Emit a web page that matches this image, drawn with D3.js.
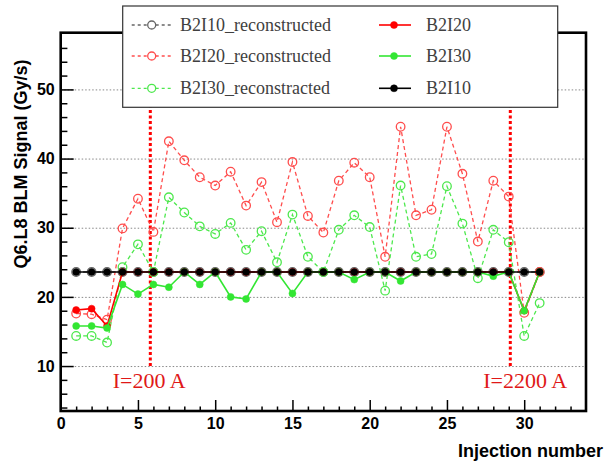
<!DOCTYPE html>
<html>
<head>
<meta charset="utf-8">
<script src="https://cdn.jsdelivr.net/npm/d3@7"></script>
<style>
body { margin: 0; background: #fff; }
svg { display: block; }
.tick text { font-family: Arial, "Liberation Sans", sans-serif; font-weight: bold; font-size: 16px; fill: #000; }
</style>
</head>
<body>
<div class="chart"></div>
<script>
var width = 609,
    height = 462;

// injection numbers
var injections = [1, 2, 3, 4, 5, 6, 7, 8, 9, 10, 11, 12, 13, 14, 15, 16, 17, 18, 19, 20,
                  21, 22, 23, 24, 25, 26, 27, 28, 29, 30, 31];

// measured signals (Gy/s)
var b2i10 = [23.6, 23.6, 23.6, 23.6, 23.6, 23.6, 23.6, 23.6, 23.6, 23.6, 23.6, 23.6, 23.6, 23.6, 23.6, 23.6,
             23.6, 23.6, 23.6, 23.6, 23.6, 23.6, 23.6, 23.6, 23.6, 23.6, 23.6, 23.6, 23.6, 23.6, 23.6];
var b2i20 = [18.1, 18.3, 15.8, 23.6, 23.6, 23.6, 23.6, 23.6, 23.6, 23.6, 23.6, 23.6, 23.6, 23.6, 23.6, 23.6,
             23.6, 23.6, 23.6, 23.6, 23.6, 23.6, 23.6, 23.6, 23.6, 23.6, 23.6, 23.6, 23.6, 18.0, 23.6];
var b2i30 = [15.8, 15.8, 15.5, 21.8, 20.4, 21.8, 21.4, 23.6, 21.8, 23.6, 20.0, 19.7, 23.6, 23.6, 20.5, 23.6,
             23.6, 23.6, 22.5, 23.6, 23.6, 22.3, 23.6, 23.6, 23.6, 23.6, 23.6, 23.0, 23.6, 18.0, 23.6];

// reconstructed signals (Gy/s)
var b2i10Rec = [23.6, 23.6, 23.6, 23.6, 23.6, 23.6, 23.6, 23.6, 23.6, 23.6, 23.6, 23.6, 23.6, 23.6, 23.6, 23.6,
                23.6, 23.6, 23.6, 23.6, 23.6, 23.6, 23.6, 23.6, 23.6, 23.6, 23.6, 23.6, 23.6, 23.6, 23.6];
var b2i20Rec = [17.6, 17.5, 16.7, 29.9, 34.2, 29.4, 42.5, 39.75, 37.3, 36.1, 38.1, 33.2, 36.6, 30.8, 39.5, 31.7,
                29.3, 36.8, 39.4, 37.3, 25.8, 44.6, 31.8, 32.6, 44.6, 37.8, 28.0, 36.8, 34.5, 17.7, 23.6];
var b2i30Rec = [14.35, 14.35, 13.4, 24.3, 27.6, 23.6, 34.4, 32.2, 30.2, 29.1, 30.7, 26.8, 29.5, 25.0, 31.9, 25.8,
                23.6, 29.7, 31.8, 30.1, 20.9, 36.1, 25.8, 26.2, 36.0, 30.6, 22.7, 29.7, 27.9, 14.35, 19.1];

// current steps
var stepInjection = [5.8, 29.1];
var stepLabels = ["I=200 A", "I=2200 A"];

var yMajor = [10, 20, 30, 40, 50];
var xMajor = [0, 5, 10, 15, 20, 25, 30];

var svg = d3.select(".chart").append("svg")
    .attr("width", width)
    .attr("height", height);

var x = d3.scaleLinear().domain([0, 34]).range([60.7, 586]);
var y = d3.scaleLinear().domain([3.5, 58.2]).range([411, 32.7]);

// grid
svg.append("g")
    .attr("transform", "translate(" + x(0) + ",0)")
    .call(d3.axisLeft(y).tickValues(yMajor).tickSize(-(x(34) - x(0))).tickFormat(""))
    .call(function(g) {
      g.select(".domain").remove();
      g.selectAll("line").attr("stroke", "#888").attr("stroke-width", 1).attr("stroke-dasharray", "1.5,2");
    });

// current step lines
svg.selectAll(".step")
    .data(stepInjection)
    .enter().append("line")
    .attr("class", "step")
    .attr("x1", function(d) { return x(d); })
    .attr("x2", function(d) { return x(d); })
    .attr("y1", y(10))
    .attr("y2", y(58.2))
    .attr("stroke", "#f00")
    .attr("stroke-width", 3)
    .attr("stroke-dasharray", "3,2.5");

var series = [
  {values: b2i10Rec, color: "#666", dashed: true},
  {values: b2i20Rec, color: "#ff4d4d", dashed: true},
  {values: b2i30Rec, color: "#4de84d", dashed: true},
  {values: b2i20, color: "#ff0000", dashed: false},
  {values: b2i30, color: "#33e633", dashed: false},
  {values: b2i10, color: "#000", dashed: false}
];

var line = d3.line()
    .x(function(d) { return x(d[0]); })
    .y(function(d) { return y(d[1]); });

series.forEach(function(s) {
  var pts = s.values.map(function(v, i) { return [injections[i], v]; });
  var g = svg.append("g");
  g.append("path")
      .datum(pts)
      .attr("d", line)
      .attr("fill", "none")
      .attr("stroke", s.color)
      .attr("stroke-width", s.dashed ? 1.3 : 1.6)
      .attr("stroke-dasharray", s.dashed ? "4,3" : null);
  g.selectAll("circle")
      .data(pts)
      .enter().append("circle")
      .attr("cx", function(d) { return x(d[0]); })
      .attr("cy", function(d) { return y(d[1]); })
      .attr("r", s.dashed ? 4.3 : 3.5)
      .attr("fill", s.dashed ? "none" : s.color)
      .attr("stroke", s.color)
      .attr("stroke-width", s.dashed ? 1.3 : 0.5);
});

// step labels
var labelAt = [3.37, 27.35];
svg.selectAll(".steplabel")
    .data(stepLabels)
    .enter().append("text")
    .attr("x", function(d, i) { return x(labelAt[i]); })
    .attr("y", 388)
    .attr("font-family", "'Liberation Serif', 'Times New Roman', serif")
    .attr("font-size", 22)
    .attr("fill", "#e01818")
    .text(function(d) { return d; });

// axes, ticks inside the frame
function styleAxis(g) {
  g.select(".domain").remove();
  g.selectAll("line").attr("stroke", "#000").attr("stroke-width", 1.5);
}

svg.append("g")
    .attr("transform", "translate(" + x(0) + ",0)")
    .call(d3.axisLeft(y).tickValues(d3.range(4, 58, 2).filter(function(v) { return v % 10 != 0; }))
      .tickSize(-6.7).tickFormat(""))
    .call(styleAxis);
svg.append("g")
    .attr("transform", "translate(" + x(0) + ",0)")
    .call(d3.axisLeft(y).tickValues(yMajor).tickSize(-13).tickPadding(6))
    .call(styleAxis);

svg.append("g")
    .attr("transform", "translate(0," + y(3.5) + ")")
    .call(d3.axisBottom(x).tickValues(d3.range(1, 34).filter(function(v) { return v % 5 != 0; }))
      .tickSize(-4.5).tickFormat(""))
    .call(styleAxis);
svg.append("g")
    .attr("transform", "translate(0," + y(3.5) + ")")
    .call(d3.axisBottom(x).tickValues(xMajor).tickSize(-11).tickPadding(7))
    .call(styleAxis);

// frame
svg.append("rect")
    .attr("x", x(0))
    .attr("y", y(58.2))
    .attr("width", x(34) - x(0))
    .attr("height", y(3.5) - y(58.2))
    .attr("fill", "none")
    .attr("stroke", "#000")
    .attr("stroke-width", 2.6);

// axis titles
svg.append("text")
    .attr("transform", "translate(26.5,164) rotate(-90)")
    .attr("text-anchor", "middle")
    .attr("font-family", "Arial, 'Liberation Sans', sans-serif")
    .attr("font-weight", "bold")
    .attr("font-size", 18)
    .text("Q6.L8 BLM Signal (Gy/s)");

svg.append("text")
    .attr("x", 603)
    .attr("y", 457)
    .attr("text-anchor", "end")
    .attr("font-family", "Arial, 'Liberation Sans', sans-serif")
    .attr("font-weight", "bold")
    .attr("font-size", 18)
    .text("Injection number");

// legend
var legendNames = ["B2I10_reconstructed", "B2I20_reconstructed", "B2I30_reconstracted", "B2I20", "B2I30", "B2I10"];
var legendRows = [25, 56, 88.3];

var legend = svg.append("g");
legend.append("rect")
    .attr("x", 122.7)
    .attr("y", 6)
    .attr("width", 435)
    .attr("height", 101.3)
    .attr("fill", "#fff")
    .attr("stroke", "#333")
    .attr("stroke-width", 1.2);

legendNames.forEach(function(name, i) {
  var s = series[i];
  var col = i < 3 ? 0 : 1;
  var cy = legendRows[i % 3];
  var x1 = col ? 379 : 131.7, x2 = col ? 411 : 170.7, cx = col ? 394 : 151.7, tx = col ? 426 : 180;
  legend.append("line")
      .attr("x1", x1).attr("x2", x2)
      .attr("y1", cy).attr("y2", cy)
      .attr("stroke", s.color)
      .attr("stroke-width", s.dashed ? 1.3 : 1.6)
      .attr("stroke-dasharray", s.dashed ? "3,3" : null);
  legend.append("circle")
      .attr("cx", cx).attr("cy", cy)
      .attr("r", s.dashed ? 4 : 3.5)
      .attr("fill", s.dashed ? "#fff" : s.color)
      .attr("stroke", s.color)
      .attr("stroke-width", s.dashed ? 1.3 : 0.5);
  legend.append("text")
      .attr("x", tx)
      .attr("y", cy + 5.5)
      .attr("font-family", "'Liberation Serif', 'Times New Roman', serif")
      .attr("font-size", 18)
      .attr("fill", "#404040")
      .text(name);
});
</script>
</body>
</html>
